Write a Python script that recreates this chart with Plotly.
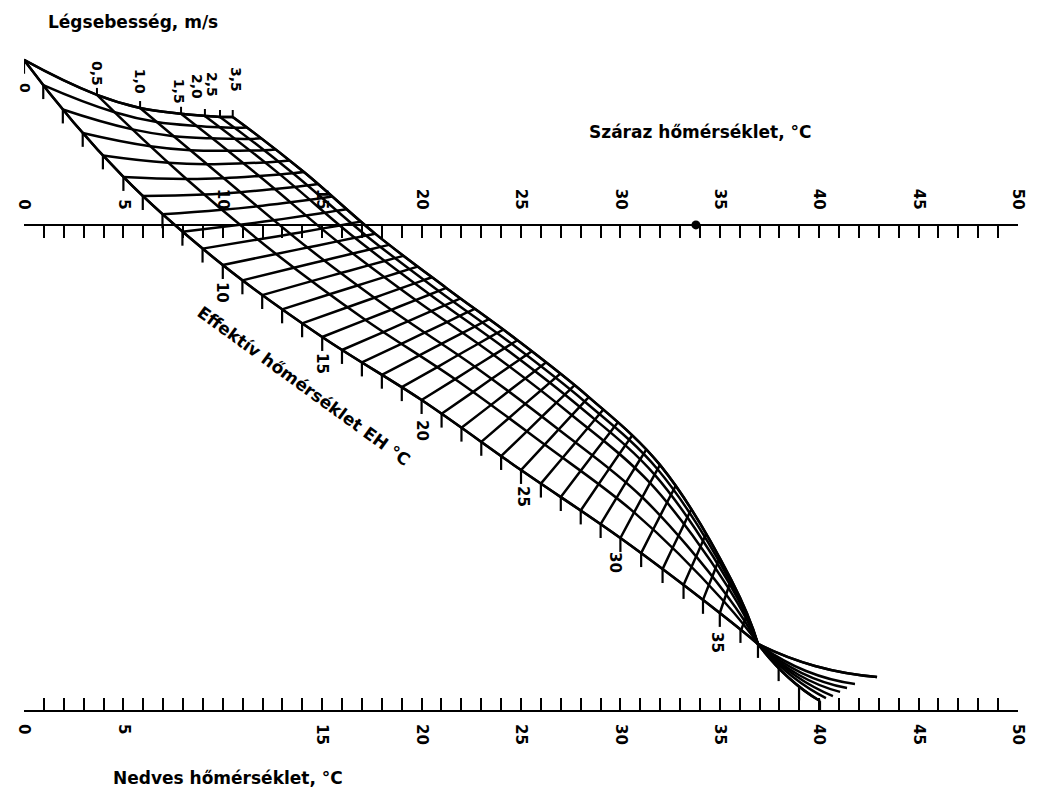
import plotly.graph_objects as go

# ---- data (x: °C on the temperature scales, y: height in the same units above the wet-bulb scale)
speeds = [0, 0.5, 1.0, 1.5, 2.0, 2.5, 3.5]          # air speed curves, m/s
speed_labels = ['0', '0,5', '1,0', '1,5', '2,0', '2,5', '3,5']
et_values = [0, 5, 10, 15, 20, 25, 30, 35, 37]      # effective temperature rows, °C (37 = convergence)
fan_et = [37, 38.5, 40]                              # continuation of the speed curves past convergence

grid_x = [
    [0.0, 3.67, 5.84, 7.9, 9.1, 9.86, 10.5],
    [5.0, 8.17, 10.05, 11.83, 12.87, 13.53, 14.08],
    [10.0, 12.68, 14.26, 15.76, 16.64, 17.2, 17.66],
    [15.0, 17.18, 18.47, 19.7, 20.41, 20.86, 21.24],
    [20.0, 21.69, 22.68, 23.63, 24.18, 24.53, 24.82],
    [25.0, 26.19, 26.89, 27.56, 27.95, 28.2, 28.41],
    [30.0, 30.69, 31.1, 31.49, 31.72, 31.87, 31.99],
    [35.0, 35.2, 35.32, 35.43, 35.49, 35.53, 35.57],
    [36.92, 36.92, 36.92, 36.92, 36.92, 36.92, 36.92],
]
grid_y = [
    [32.7, 30.94, 30.28, 29.99, 29.88, 29.83, 29.83],
    [26.81, 26.71, 26.75, 26.86, 26.94, 27.0, 27.06],
    [22.38, 22.94, 23.26, 23.57, 23.75, 23.87, 23.96],
    [18.76, 19.62, 20.13, 20.62, 20.9, 21.08, 21.23],
    [15.59, 16.64, 17.27, 17.86, 18.2, 18.42, 18.6],
    [12.07, 13.35, 14.11, 14.83, 15.25, 15.52, 15.74],
    [8.65, 9.94, 10.7, 11.42, 11.84, 12.11, 12.33],
    [4.88, 5.47, 5.81, 6.14, 6.34, 6.46, 6.56],
    [3.32, 3.32, 3.32, 3.32, 3.32, 3.32, 3.32],
]
fan_x = [
    [36.92, 36.92, 36.92, 36.92, 36.92, 36.92, 36.92],
    [38.48, 38.68, 38.83, 38.98, 39.13, 39.34, 39.79],
    [40.04, 40.34, 40.69, 41.05, 41.4, 41.8, 42.91],
]
fan_y = [
    [3.32, 3.32, 3.32, 3.32, 3.32, 3.32, 3.32],
    [1.61, 1.66, 1.71, 1.76, 1.86, 1.96, 2.21],
    [0.45, 0.60, 0.70, 0.91, 1.11, 1.31, 1.66],
]
et_scale_labels = [10, 15, 20, 25, 30, 35]
temp_ticks = list(range(0, 51))
dry_labels = [0, 5, 10, 15, 20, 25, 30, 35, 40, 45, 50]
wet_labels = [0, 5, 15, 20, 25, 30, 35, 40, 45, 50]
marked_dry_temp = 33.8
SCALE_GAP = 24.4       # height of the dry-bulb scale above the wet-bulb scale
Y_TOP = 35.31

FONT = "DejaVu Sans, Liberation Sans, Arial, sans-serif"
LW = 2.5
BLK = 'black'
fig = go.Figure()
fig.add_trace(go.Carpet(carpet='grid', a=speeds, b=et_values, x=grid_x, y=grid_y,
    aaxis=dict(tickmode='array', showticklabels='none', showgrid=True,
               gridcolor=BLK, gridwidth=LW, startline=True, endline=True,
               startlinecolor=BLK, endlinecolor=BLK, startlinewidth=LW, endlinewidth=LW,
               smoothing=1, minorgridcount=0, showline=False),
    baxis=dict(tickmode='linear', tick0=0, dtick=1, showticklabels='none', showgrid=True,
               gridcolor=BLK, gridwidth=LW, startline=True, endline=False,
               startlinecolor=BLK, startlinewidth=LW, smoothing=1, minorgridcount=0,
               showline=False)))
fig.add_trace(go.Carpet(carpet='fan', a=speeds, b=fan_et, x=fan_x, y=fan_y,
    aaxis=dict(tickmode='array', showticklabels='none', showgrid=True,
               gridcolor=BLK, gridwidth=LW, startline=True, endline=True,
               startlinecolor=BLK, endlinecolor=BLK, startlinewidth=LW, endlinewidth=LW,
               smoothing=1, minorgridcount=0, showline=False),
    baxis=dict(tickmode='linear', tick0=0, dtick=100, showticklabels='none', showgrid=False,
               startline=False, endline=False, smoothing=1, minorgridcount=0, showline=False)))

# ET scale ticks hanging below the still-air curve
TL = 0.7
tick_b = et_values[:-1] + fan_et
tick_x = [[r[0], r[0]] for r in grid_x[:-1] + fan_x]
tick_y = [[r[0], r[0] - TL] for r in grid_y[:-1] + fan_y]
fig.add_trace(go.Carpet(carpet='ticks', a=[0, 1], b=tick_b, x=tick_x, y=tick_y,
    aaxis=dict(showgrid=False, startline=False, endline=False, showticklabels='none', smoothing=0),
    baxis=dict(tickmode='linear', tick0=0, dtick=1, range=[1, 39], showgrid=True, gridcolor=BLK,
               gridwidth=2.2, startline=False, endline=False, showticklabels='none', smoothing=1)))

# small ticks at the upper ends of the speed curves
for j in range(1, len(speeds)):
    fig.add_trace(go.Scatter(x=[grid_x[0][j], grid_x[0][j]], y=[grid_y[0][j], grid_y[0][j] + 0.35],
                             mode='lines', line=dict(color=BLK, width=2), hoverinfo='skip'))

fig.add_trace(go.Scatter(x=[marked_dry_temp], y=[SCALE_GAP], xaxis='x2', yaxis='y', mode='markers',
                         marker=dict(color=BLK, size=9), hoverinfo='skip'))

top_text = ['<b>%d</b>' % v if v in dry_labels else '' for v in temp_ticks]
bot_text = ['<b>%d</b>' % v if v in wet_labels else '' for v in temp_ticks]
axcommon = dict(range=[0, 50], showgrid=False, zeroline=False, showline=True, linecolor=BLK,
                linewidth=2.2, ticks='inside', ticklen=12, tickwidth=2.2, tickcolor=BLK,
                tickmode='array', tickvals=temp_ticks, tickangle=90,
                tickfont=dict(family=FONT, size=15, color=BLK), fixedrange=True)
fig.update_layout(width=1041, height=803, margin=dict(l=16, r=31, t=0, b=101),
    paper_bgcolor='white', plot_bgcolor='white', showlegend=False,
    xaxis=dict(**axcommon, ticktext=bot_text, ticklabelstandoff=9),
    xaxis2=dict(**axcommon, ticktext=top_text, overlaying='x', anchor='free',
                position=round(SCALE_GAP / Y_TOP, 4), side='top', ticklabelstandoff=9),
    yaxis=dict(range=[0, Y_TOP], visible=False, fixedrange=True))

ann = []
def A(text, x, y, angle=0, size=16, yref='y'):
    ann.append(dict(text='<b>%s</b>' % text, x=x, y=y, xref='x', yref=yref, showarrow=False,
                    textangle=angle, font=dict(family=FONT, size=size, color=BLK)))

A('Légsebesség, m/s', 5.48, 34.61, size=17)
A('Száraz hőmérséklet, °C', 34.0, 29.07, size=17)
A('Nedves hőmérséklet, °C', 10.26, -4.02 / Y_TOP, size=17, yref='paper')
A('Effektív hőmérséklet EH °C', 14.08, 16.30, angle=36, size=17)
et_label_pos = [(9.96, 21.03), (14.99, 17.45), (20.02, 14.08), (25.10, 10.71), (29.73, 7.44), (34.86, 3.42)]
for v, (x, y) in zip(et_scale_labels, et_label_pos):
    A(str(v), x, y, angle=90, size=15)
speed_label_pos = [(0.05, 31.29), (3.67, 31.99), (5.84, 31.64), (7.80, 31.14), (8.70, 31.34),
                   (9.46, 31.49), (10.66, 31.69)]
for t, (x, y) in zip(speed_labels, speed_label_pos):
    A(t, x, y, angle=90, size=14)
fig.update_layout(annotations=ann)
fig.write_html("out.html")
